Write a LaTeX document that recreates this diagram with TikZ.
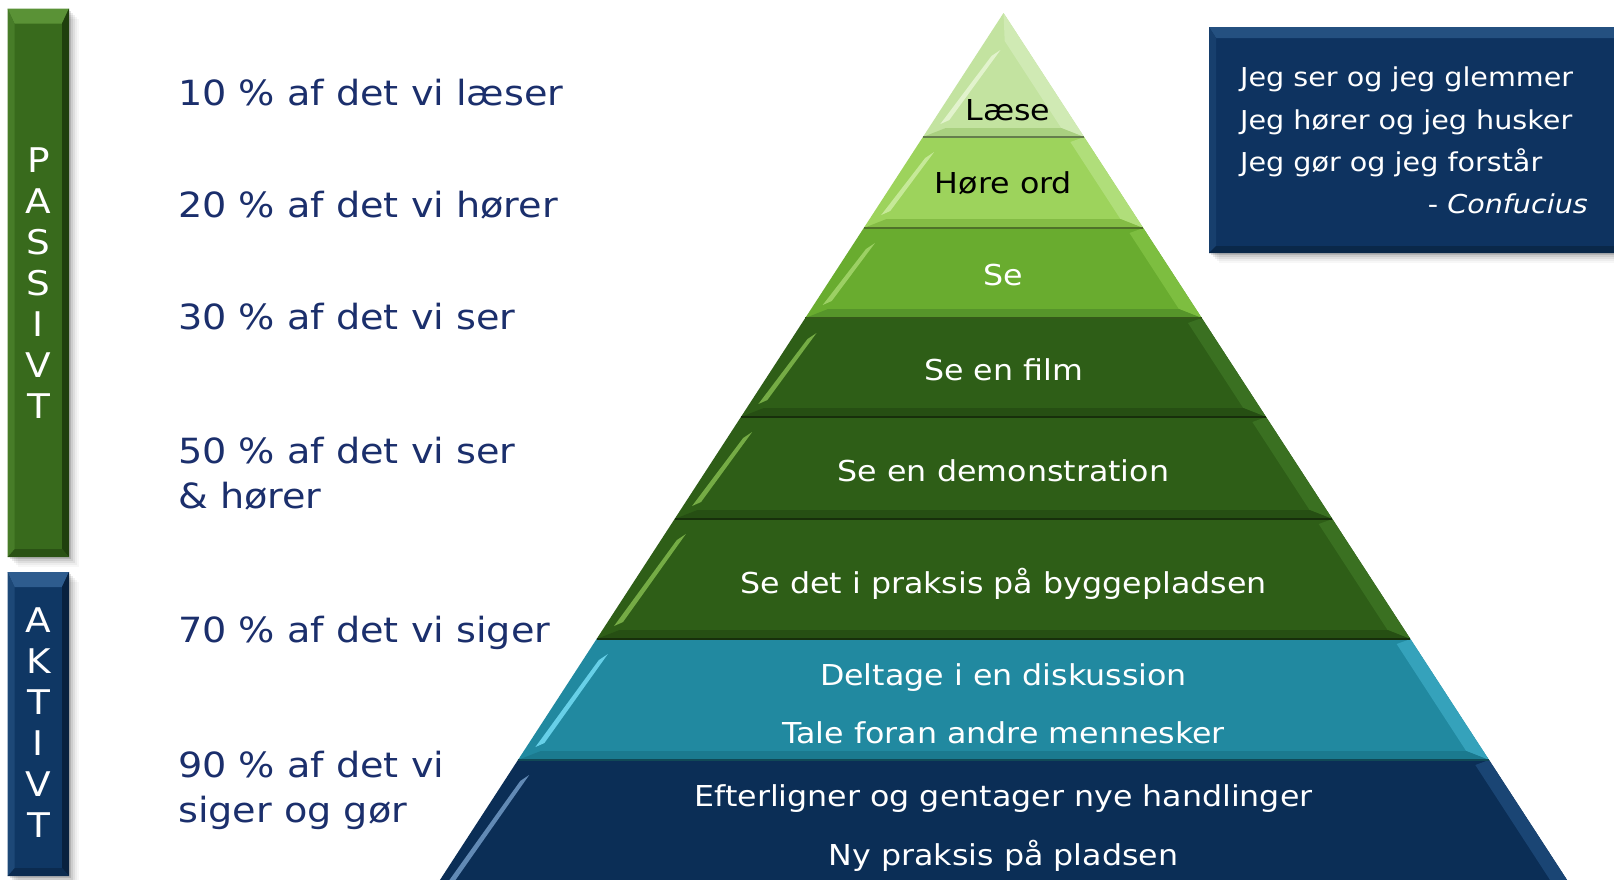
\documentclass[tikz,border=0pt]{standalone}
\usepackage{fontspec}
\setmainfont[FakeStretch=1.1]{DejaVu Sans}

% layer colours: base, highlight streak, right face, bottom face
\definecolor{laese}{HTML}{C3E3A0}\definecolor{laeseHi}{HTML}{E6F5D2}\definecolor{laeseR}{HTML}{D0EAB4}\definecolor{laeseB}{HTML}{A9D080}
\definecolor{hore}{HTML}{9DD35C}\definecolor{horeHi}{HTML}{CBEC9F}\definecolor{horeR}{HTML}{B0DE7A}\definecolor{horeB}{HTML}{84BC45}
\definecolor{se}{HTML}{69AC2F}\definecolor{seHi}{HTML}{A2D56A}\definecolor{seR}{HTML}{7DBE40}\definecolor{seB}{HTML}{56952A}
\definecolor{dg}{HTML}{2E5E17}\definecolor{dgHi}{HTML}{7DB54A}\definecolor{dgR}{HTML}{3A7021}\definecolor{dgB}{HTML}{264F13}
\definecolor{teal}{HTML}{2189A0}\definecolor{tealHi}{HTML}{6FD8F0}\definecolor{tealR}{HTML}{35A2BB}\definecolor{tealB}{HTML}{1B7A8F}
\definecolor{navy}{HTML}{0B2E56}\definecolor{navyHi}{HTML}{6C94C0}\definecolor{navyR}{HTML}{1A4574}\definecolor{navyB}{HTML}{082446}
% side bars and quote box
\definecolor{barG}{HTML}{386A1C}\definecolor{barGtop}{HTML}{5A9236}\definecolor{barGr}{HTML}{1F400D}\definecolor{barGb}{HTML}{2A5214}
\definecolor{barB}{HTML}{0F3764}\definecolor{barBtop}{HTML}{2E5C8E}\definecolor{barBr}{HTML}{08213F}\definecolor{barBb}{HTML}{0B2B50}
\definecolor{qbox}{HTML}{0E3360}\definecolor{qboxtop}{HTML}{245080}\definecolor{qboxb}{HTML}{0A2849}
\definecolor{pctblue}{HTML}{1B2F6C}

% one bevelled band of the pyramid: ytop, ybottom, base, highlight, right face, bottom face
\newcommand{\pyrlayer}[6]{%
  \pgfmathsetmacro{\hT}{0.65*(#1-13)}%
  \pgfmathsetmacro{\hB}{0.65*(#2-13)}%
  \pgfmathsetmacro{\yI}{max(#1+5,41)}%
  \pgfmathsetmacro{\yJ}{#2-9}%
  \pgfmathsetmacro{\hI}{0.65*(\yI-13)-17}%
  \pgfmathsetmacro{\hJ}{0.65*(\yJ-13)-17}%
  \pgfmathsetmacro{\yS}{max(#1+15,50)}%
  \pgfmathsetmacro{\yE}{#2-13}%
  \pgfmathsetmacro{\hS}{0.65*(\yS-13)}%
  \pgfmathsetmacro{\hE}{0.65*(\yE-13)}%
  \fill[#3] (1003.5-\hT,#1) -- (1003.5+\hT,#1) -- (1003.5+\hB,#2) -- (1003.5-\hB,#2) -- cycle;
  \fill[#5] (1003.5+\hT,#1) -- (1003.5+\hB,#2) -- (1003.5+\hJ,\yJ) -- (1003.5+\hI,\yI) -- cycle;
  \fill[#6] (1003.5-\hB,#2) -- (1003.5+\hB,#2) -- (1003.5+\hJ,\yJ) -- (1003.5-\hJ,\yJ) -- cycle;
  \fill[#4,opacity=0.9] (1003.5-\hS+12,\yS+6) -- (1003.5-\hS+21,\yS) -- (1003.5-\hE+18,\yE-4) -- (1003.5-\hE+9,\yE) -- cycle;
  \draw[#6!60!black,line width=1.5] (1003.5-\hB,#2) -- (1003.5+\hB,#2);
}

% bevelled bar with soft shadow: x1 y1 x2 y2 base top right bottom
\newcommand{\bevelbar}[8]{%
  \foreach \s/\o in {2/0.12,4/0.08,6/0.06,8/0.04,10/0.03}
    \fill[black,opacity=\o] (#1+\s,#2+\s) rectangle (#3+\s,#4+\s);
  \fill[#5] (#1,#2) rectangle (#3,#4);
  \fill[#6] (#1,#2) -- (#3,#2) -- (#3-7,#2+15) -- (#1+7,#2+15) -- cycle;
  \fill[#7] (#3,#2) -- (#3,#4) -- (#3-7,#4-8) -- (#3-7,#2+15) -- cycle;
  \fill[#8] (#1,#4) -- (#3,#4) -- (#3-7,#4-8) -- (#1+7,#4-8) -- cycle;
  \fill[#6!45!#5] (#1,#2) -- (#1+7,#2+15) -- (#1+7,#4-8) -- (#1,#4) -- cycle;
}

\begin{document}
\begin{tikzpicture}[x=1pt,y=-1pt,
  pct/.style={anchor=base west,inner sep=0pt,text=pctblue,font=\fontsize{34.7}{40}\selectfont},
  lvl/.style={anchor=base,inner sep=0pt,font=\fontsize{28.8}{34}\selectfont},
  lvldark/.style={lvl,text=black},
  lvllight/.style={lvl,text=white},
  quoteline/.style={anchor=base west,inner sep=0pt,text=white,font=\fontsize{26}{30}\selectfont},
  barletter/.style={anchor=base,inner sep=0pt,text=white,font=\fontsize{34}{38}\selectfont}]
\clip (0,0) rectangle (1614,879);
\fill[white] (0,0) rectangle (1614,879);

% pyramid, drawn from the base upwards
\pyrlayer{760}{900}{navy}{navyHi}{navyR}{navyB}
\pyrlayer{639}{760}{teal}{tealHi}{tealR}{tealB}
\pyrlayer{519}{639}{dg}{dgHi}{dgR}{dgB}
\pyrlayer{417}{519}{dg}{dgHi}{dgR}{dgB}
\pyrlayer{318}{417}{dg}{dgHi}{dgR}{dgB}
\pyrlayer{228}{318}{se}{seHi}{seR}{seB}
\pyrlayer{137}{228}{hore}{horeHi}{horeR}{horeB}
\pyrlayer{13}{137}{laese}{laeseHi}{laeseR}{laeseB}

% pyramid labels
\node[lvldark]  (l1)  at (1008,120.7) {Læse};
\node[lvldark]  (l2)  at (1003.5,193.3) {Høre ord};
\node[lvllight] (l3)  at (1003.5,285) {Se};
\node[lvllight] (l4)  at (1003.5,380) {Se en film};
\node[lvllight] (l5)  at (1003.5,481) {Se en demonstration};
\node[lvllight] (l6)  at (1003.5,593) {Se det i praksis på byggepladsen};
\node[lvllight] (l7a) at (1003.5,685) {Deltage i en diskussion};
\node[lvllight] (l7b) at (1003.5,743) {Tale foran andre mennesker};
\node[lvllight] (l8a) at (1003.5,806.5) {Efterligner og gentager nye handlinger};
\node[lvllight] (l8b) at (1003.5,865) {Ny praksis på pladsen};

% retention percentages
\node[pct] (p10)  at (178,105) {10 \% af det vi læser};
\node[pct] (p20)  at (178,217) {20 \% af det vi hører};
\node[pct] (p30)  at (178,329) {30 \% af det vi ser};
\node[pct] (p50a) at (178,463) {50 \% af det vi ser};
\node[pct] (p50b) at (178,508) {\& hører};
\node[pct] (p70)  at (178,642) {70 \% af det vi siger};
\node[pct] (p90a) at (178,777) {90 \% af det vi};
\node[pct] (p90b) at (178,822) {siger og gør};

% side bars
\bevelbar{7.5}{8.5}{69}{557}{barG}{barGtop}{barGr}{barGb}
\bevelbar{7.5}{572}{69}{876}{barB}{barBtop}{barBr}{barBb}
\foreach \ch [count=\i] in {P,A,S,S,I,V,T}
  \node[barletter] (pas\i) at (38.5,{131+41*\i}) {\ch};
\foreach \ch [count=\i] in {A,K,T,I,V,T}
  \node[barletter] (akt\i) at (38.5,{591+41*\i}) {\ch};

% quote box
\foreach \s/\o in {2/0.12,4/0.08,6/0.06,8/0.04,10/0.03}
  \fill[black,opacity=\o] (1209+\s,27+\s) rectangle (1630,253+\s);
\fill[qbox] (1209,27) rectangle (1630,253);
\fill[qboxtop] (1209,27) -- (1630,27) -- (1630,38) -- (1216,38) -- cycle;
\fill[qboxtop!40!qbox] (1209,27) -- (1216,38) -- (1216,246) -- (1209,253) -- cycle;
\fill[qboxb] (1209,253) -- (1630,253) -- (1630,246) -- (1216,246) -- cycle;
\node[quoteline] (q1) at (1240,86.7) {Jeg ser og jeg glemmer};
\node[quoteline] (q2) at (1240,129) {Jeg hører og jeg husker};
\node[quoteline] (q3) at (1240,171) {Jeg gør og jeg forstår};
\node[quoteline,anchor=base east] (q4) at (1588,213.3) {- \textit{Confucius}};
\end{tikzpicture}
\end{document}
